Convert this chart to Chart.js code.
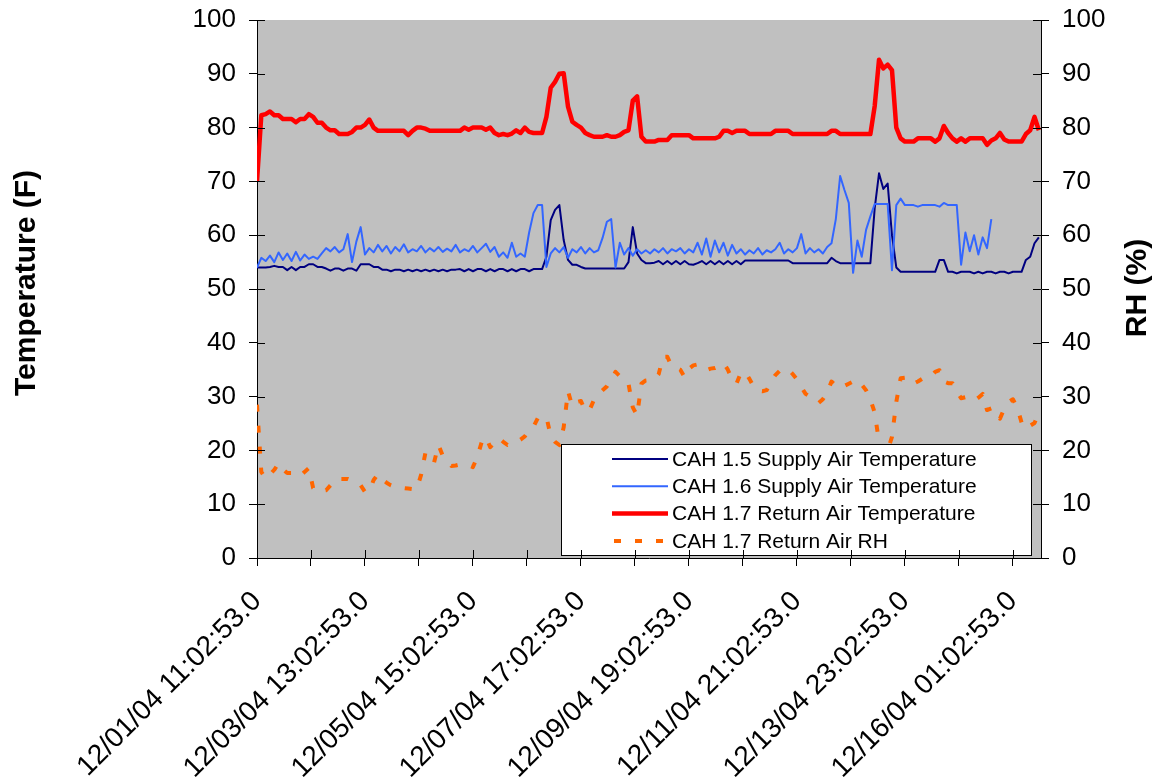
<!DOCTYPE html>
<html>
<head>
<meta charset="utf-8">
<title>CAH supply / return air</title>
<script src="https://cdn.jsdelivr.net/npm/chart.js@4.4.1/dist/chart.umd.min.js"></script>
<style>
  html, body { margin: 0; padding: 0; background: #fff; }
  #wrap { width: 1154px; height: 778px; }
</style>
</head>
<body>
<div id="wrap"><canvas id="trend" width="1154" height="778"></canvas></div>
<script>
// samples every 2 hours, starting 12/01/04 11:02:53
const sampleStepHours = 2;
const tickLabels = [
  '12/01/04 11:02:53.0', '12/03/04 13:02:53.0', '12/05/04 15:02:53.0', '12/07/04 17:02:53.0',
  '12/09/04 19:02:53.0', '12/11/04 21:02:53.0', '12/13/04 23:02:53.0', '12/16/04 01:02:53.0'
];

const cah15Supply = [
  54.0, 54.0, 54.0, 54.1, 54.3, 54.1, 54.1, 53.5, 54.1, 53.5,
  54.1, 54.1, 54.6, 54.6, 54.1, 54.1, 53.8, 53.4, 53.8, 53.8,
  53.4, 53.8, 53.8, 53.4, 54.6, 54.6, 54.6, 54.1, 54.1, 53.6,
  53.6, 53.3, 53.6, 53.6, 53.3, 53.6, 53.3, 53.6, 53.3, 53.6,
  53.3, 53.6, 53.3, 53.6, 53.3, 53.6, 53.6, 53.7, 53.3, 53.7,
  53.3, 53.7, 53.7, 53.3, 53.7, 53.3, 53.7, 53.7, 53.3, 53.7,
  53.3, 53.7, 53.7, 53.3, 53.7, 53.7, 53.7, 56.0, 62.8, 64.7,
  65.6, 59.1, 55.4, 54.5, 54.5, 54.1, 53.8, 53.8, 53.8, 53.8,
  53.8, 53.8, 53.8, 53.8, 53.8, 53.8, 55.0, 61.5, 56.6, 55.4,
  54.8, 54.8, 54.9, 55.2, 54.6, 55.2, 54.6, 55.2, 54.6, 55.2,
  54.6, 54.5, 54.8, 55.2, 54.6, 55.2, 54.6, 55.2, 54.6, 55.2,
  54.6, 55.2, 54.6, 55.3, 55.3, 55.3, 55.3, 55.3, 55.3, 55.3,
  55.3, 55.3, 55.3, 55.3, 54.8, 54.8, 54.8, 54.8, 54.8, 54.8,
  54.8, 54.8, 54.8, 55.8, 55.2, 54.8, 54.8, 54.8, 54.8, 54.8,
  54.8, 54.8, 54.8, 65.0, 71.5, 68.6, 69.6, 60.0, 54.0, 53.2,
  53.2, 53.2, 53.2, 53.2, 53.2, 53.2, 53.2, 53.2, 55.4, 55.4,
  53.2, 53.2, 52.9, 53.2, 53.2, 53.2, 52.9, 53.2, 52.9, 53.2,
  53.2, 52.9, 53.2, 53.2, 52.9, 53.2, 53.2, 53.2, 55.4, 56.0,
  58.5, 59.6
];

const cah16Supply = [
  54.0, 55.8, 55.2, 56.2, 55.0, 56.8, 55.4, 56.6, 55.2, 56.9,
  55.3, 56.4, 55.6, 56.0, 55.6, 56.6, 57.6, 57.0, 57.8, 56.8,
  57.4, 60.2, 55.0, 58.8, 61.5, 56.4, 57.6, 56.8, 58.2, 57.0,
  58.0, 56.6, 57.8, 57.0, 58.3, 56.8, 57.4, 57.0, 58.0, 56.8,
  57.6, 57.0, 57.8, 56.9, 57.5, 57.0, 58.2, 56.8, 57.4, 57.0,
  58.0, 56.8, 57.6, 58.4, 56.9, 57.8, 56.0, 56.8, 55.8, 58.6,
  56.0, 56.6, 56.0, 60.5, 64.1, 65.6, 65.6, 54.1, 56.6, 57.6,
  56.8, 57.8, 55.8, 57.4, 56.8, 57.8, 56.6, 57.6, 56.8, 57.2,
  59.5, 62.5, 63.0, 54.0, 58.6, 56.4, 57.6, 56.2, 57.4, 56.6,
  57.2, 56.6, 57.4, 56.8, 57.6, 56.6, 57.4, 57.0, 57.6, 56.6,
  57.4, 56.8, 58.6, 56.4, 59.4, 56.0, 59.0, 56.8, 58.6, 56.2,
  58.2, 56.6, 57.4, 56.4, 57.2, 56.6, 57.6, 56.4, 57.2, 56.8,
  57.4, 58.6, 56.6, 57.4, 56.8, 57.6, 60.2, 56.6, 57.6, 56.8,
  57.4, 56.6, 57.8, 58.5, 63.0, 71.0, 68.4, 66.0, 53.0, 59.0,
  56.0, 61.0, 63.5, 65.8, 65.8, 65.8, 65.8, 53.5, 65.6, 66.8,
  65.6, 65.6, 65.6, 65.3, 65.6, 65.6, 65.6, 65.6, 65.3, 66.0,
  65.6, 65.6, 65.6, 54.5, 60.5, 57.0, 60.0, 56.4, 59.6, 57.6,
  63.0, null, null, null, null, null, null, null, null, null,
  null, null
];

const cah17Return = [
  70.0, 82.3, 82.5, 83.0, 82.3, 82.3, 81.6, 81.6, 81.6, 81.0,
  81.6, 81.6, 82.5, 82.0, 80.9, 80.9, 80.0, 79.5, 79.5, 78.8,
  78.8, 78.8, 79.2, 80.0, 80.0, 80.5, 81.5, 80.0, 79.4, 79.4,
  79.4, 79.4, 79.4, 79.4, 79.4, 78.6, 79.4, 80.0, 80.0, 79.8,
  79.4, 79.4, 79.4, 79.4, 79.4, 79.4, 79.4, 79.4, 80.0, 79.6,
  80.0, 80.0, 80.0, 79.6, 80.0, 79.0, 78.6, 78.8, 78.6, 78.9,
  79.5, 79.0, 80.0, 79.2, 79.0, 79.0, 79.0, 82.0, 87.4, 88.5,
  90.0, 90.1, 83.9, 81.1, 80.5, 80.0, 79.0, 78.6, 78.3, 78.3,
  78.3, 78.6, 78.3, 78.3, 78.6, 79.2, 79.5, 85.0, 85.8, 78.3,
  77.4, 77.4, 77.4, 77.7, 77.7, 77.7, 78.6, 78.6, 78.6, 78.6,
  78.6, 78.0, 78.0, 78.0, 78.0, 78.0, 78.0, 78.3, 79.4, 79.4,
  79.0, 79.4, 79.4, 79.4, 78.8, 78.8, 78.8, 78.8, 78.8, 78.8,
  79.4, 79.4, 79.4, 79.4, 78.8, 78.8, 78.8, 78.8, 78.8, 78.8,
  78.8, 78.8, 78.8, 79.4, 79.4, 78.8, 78.8, 78.8, 78.8, 78.8,
  78.8, 78.8, 78.8, 84.0, 92.6, 91.0, 91.7, 90.7, 80.0, 78.0,
  77.4, 77.4, 77.4, 78.0, 78.0, 78.0, 78.0, 77.4, 78.0, 80.3,
  79.0, 78.0, 77.4, 78.0, 77.4, 78.0, 78.0, 78.0, 78.0, 76.8,
  77.6, 78.0, 79.0, 77.8, 77.4, 77.4, 77.4, 77.4, 78.8, 79.5,
  82.0, 79.5
];

const cah17ReturnRH = [
  28.5, 16.0, 14.8, 15.5, 16.4, 17.6, 16.5, 15.8, 15.8, 15.4,
  15.2, 16.0, 16.7, 13.0, 12.3, 12.5, 12.6, 13.5, 14.6, 14.7,
  14.7, 14.7, 14.4, 14.0, 13.5, 12.3, 12.4, 14.5, 15.6, 14.6,
  14.0, 13.5, 13.2, 13.1, 13.0, 12.9, 12.8, 12.8, 15.5, 19.6,
  19.0, 17.8, 21.0, 19.0, 18.0, 17.1, 17.2, 17.4, 17.5, 17.2,
  16.9, 18.8, 21.5, 22.5, 20.6, 21.5, 22.3, 21.6, 21.0, 21.3,
  21.6, 22.0, 22.6, 23.8, 24.4, 26.0, 26.2, 26.2, 22.7, 21.6,
  21.0, 24.3, 31.0, 28.2, 29.0, 29.2, 27.3, 27.5, 29.4, 30.4,
  31.2, 31.9, 33.2, 34.6, 33.8, 33.0, 32.4, 28.0, 26.5, 32.4,
  33.0, 33.1, 33.2, 34.2, 37.4, 37.4, 35.6, 35.4, 35.0, 33.6,
  35.2, 35.8, 36.0, 35.4, 34.9, 35.2, 35.3, 35.6, 36.2, 35.0,
  33.2, 32.4, 34.4, 34.6, 33.3, 31.8, 31.1, 31.0, 31.2, 32.8,
  34.0, 34.8, 35.1, 35.1, 34.2, 33.2, 31.8, 30.5, 30.0, 29.6,
  28.8, 29.5, 30.8, 32.8, 32.0, 31.6, 32.0, 32.4, 32.8, 33.1,
  32.2, 31.2, 29.5, 27.0, 21.6, 19.5, 20.0, 22.5, 29.0, 33.4,
  33.5, 33.4, 32.4, 32.8, 33.3, 33.5, 33.7, 34.6, 34.9, 32.8,
  32.5, 32.5, 31.0, 29.7, 29.9, 29.5, 29.2, 29.8, 30.5, 27.5,
  27.8, 27.5, 25.9, 27.8, 29.0, 29.5, 28.0, 25.2, 24.0, 24.6,
  25.1, 27.0
];

const hours = cah17Return.map((_, i) => i * sampleStepHours);
const toPoints = vals => vals.map((v, i) => ({ x: hours[i], y: v }));

const FONT = "'Liberation Sans', Arial, sans-serif";
Chart.defaults.font.family = FONT;
Chart.defaults.color = '#000';

// gray plot area
const plotBg = {
  id: 'plotBg',
  beforeDraw(chart) {
    const { ctx, chartArea: a } = chart;
    ctx.save();
    ctx.fillStyle = '#c0c0c0';
    ctx.fillRect(a.left, a.top, a.right - a.left, a.bottom - a.top);
    ctx.restore();
  }
};

// excel style cross tick marks: the part inside the plot
const innerTicks = {
  id: 'innerTicks',
  afterDraw(chart) {
    const { ctx, chartArea: a, scales } = chart;
    ctx.save();
    ctx.strokeStyle = '#000';
    ctx.lineWidth = 1;
    ctx.beginPath();
    scales.x.ticks.forEach(t => {
      const px = Math.round(scales.x.getPixelForValue(t.value)) + 0.5;
      ctx.moveTo(px, a.bottom); ctx.lineTo(px, a.bottom - 8);
    });
    scales.y.ticks.forEach(t => {
      const py = Math.round(scales.y.getPixelForValue(t.value)) + 0.5;
      ctx.moveTo(a.left, py); ctx.lineTo(a.left + 8, py);
    });
    scales.y1.ticks.forEach(t => {
      const py = Math.round(scales.y1.getPixelForValue(t.value)) + 0.5;
      ctx.moveTo(a.right, py); ctx.lineTo(a.right - 8, py);
    });
    ctx.stroke();
    ctx.restore();
  }
};

// both axis titles read bottom to top
const axisTitles = {
  id: 'axisTitles',
  afterDraw(chart) {
    const { ctx, chartArea: a } = chart;
    const midY = (a.top + a.bottom) / 2;
    ctx.save();
    ctx.fillStyle = '#000';
    ctx.font = 'bold 30px ' + FONT;
    ctx.textAlign = 'center';
    ctx.textBaseline = 'middle';
    [['Temperature (F)', 27, -6], ['RH (%)', 1138, -1]].forEach(([txt, x, dy]) => {
      ctx.save();
      ctx.translate(x, midY + dy);
      ctx.rotate(-Math.PI / 2);
      ctx.fillText(txt, 0, 0);
      ctx.restore();
    });
    ctx.restore();
  }
};

// legend box sitting inside the plot, lower right
const boxLegend = {
  id: 'boxLegend',
  afterDatasetsDraw(chart) {
    const ctx = chart.ctx;
    const bx = 561, by = 444, bw = 470, bh = 111;
    ctx.save();
    ctx.fillStyle = '#fff';
    ctx.fillRect(bx, by, bw, bh);
    ctx.strokeStyle = '#000';
    ctx.lineWidth = 1;
    ctx.strokeRect(bx + 0.5, by + 0.5, bw, bh);
    ctx.font = '21px ' + FONT;
    ctx.textBaseline = 'middle';
    chart.data.datasets.forEach((ds, k) => {
      const y = by + 15 + k * 27.3;
      ctx.beginPath();
      ctx.setLineDash(ds.borderDash || []);
      ctx.lineWidth = ds.borderWidth;
      ctx.strokeStyle = ds.borderColor;
      ctx.moveTo(ds.borderDash ? 614 : 612, y);
      ctx.lineTo(668, y);
      ctx.stroke();
      ctx.setLineDash([]);
      ctx.fillStyle = '#000';
      ctx.fillText(ds.label, 672, y + 1);
    });
    ctx.restore();
  }
};

// fixed axis box sizes so the plot lands where the original has it
const fixVertical = w => s => { s.width = w; s.paddingTop = 0; s.paddingBottom = 0; };

new Chart(document.getElementById('trend'), {
  type: 'line',
  data: {
    datasets: [
      { label: 'CAH 1.5 Supply Air Temperature', data: toPoints(cah15Supply), yAxisID: 'y',
        borderColor: '#000080', borderWidth: 2, order: 4 },
      { label: 'CAH 1.6 Supply Air Temperature', data: toPoints(cah16Supply), yAxisID: 'y',
        borderColor: '#3366ff', borderWidth: 2, order: 3 },
      { label: 'CAH 1.7 Return Air Temperature', data: toPoints(cah17Return), yAxisID: 'y',
        borderColor: '#ff0000', borderWidth: 4.5, order: 2 },
      { label: 'CAH 1.7 Return Air RH', data: toPoints(cah17ReturnRH), yAxisID: 'y1',
        borderColor: '#ff6600', borderWidth: 4, borderDash: [7, 14], order: 1 }
    ]
  },
  options: {
    responsive: false,
    animation: false,
    events: [],
    layout: { padding: { top: 20, left: 0, right: 0, bottom: 0 } },
    elements: {
      point: { radius: 0 },
      line: { tension: 0, fill: false, borderJoinStyle: 'round' }
    },
    plugins: { legend: { display: false }, tooltip: { enabled: false } },
    scales: {
      x: {
        type: 'linear',
        min: 0,
        max: 363,
        afterBuildTicks: s => { s.ticks = s.ticks.filter(t => t.value % 25 === 0); },
        afterFit: s => { s.height = 220; },
        ticks: {
          stepSize: 25,
          includeBounds: false,
          autoSkip: false,
          minRotation: 45,
          maxRotation: 45,
          padding: 19,
          font: { size: 28 },
          callback: v => (v % 50 === 0 ? tickLabels[v / 50] : '')
        },
        grid: { drawOnChartArea: false, drawTicks: true, tickLength: 8, color: '#000' },
        border: { display: true, color: '#000', width: 1 }
      },
      y: {
        position: 'left',
        min: 0,
        max: 100,
        afterFit: fixVertical(257),
        ticks: { stepSize: 10, padding: 13, font: { size: 26 } },
        grid: { drawOnChartArea: false, drawTicks: true, tickLength: 8, color: '#000' },
        border: { display: true, color: '#000', width: 1 }
      },
      y1: {
        position: 'right',
        min: 0,
        max: 100,
        afterFit: fixVertical(113),
        ticks: { stepSize: 10, padding: 13, font: { size: 26 } },
        grid: { drawOnChartArea: false, drawTicks: true, tickLength: 8, color: '#000' },
        border: { display: true, color: '#000', width: 1 }
      }
    }
  },
  plugins: [plotBg, innerTicks, axisTitles, boxLegend]
});
</script>
</body>
</html>
